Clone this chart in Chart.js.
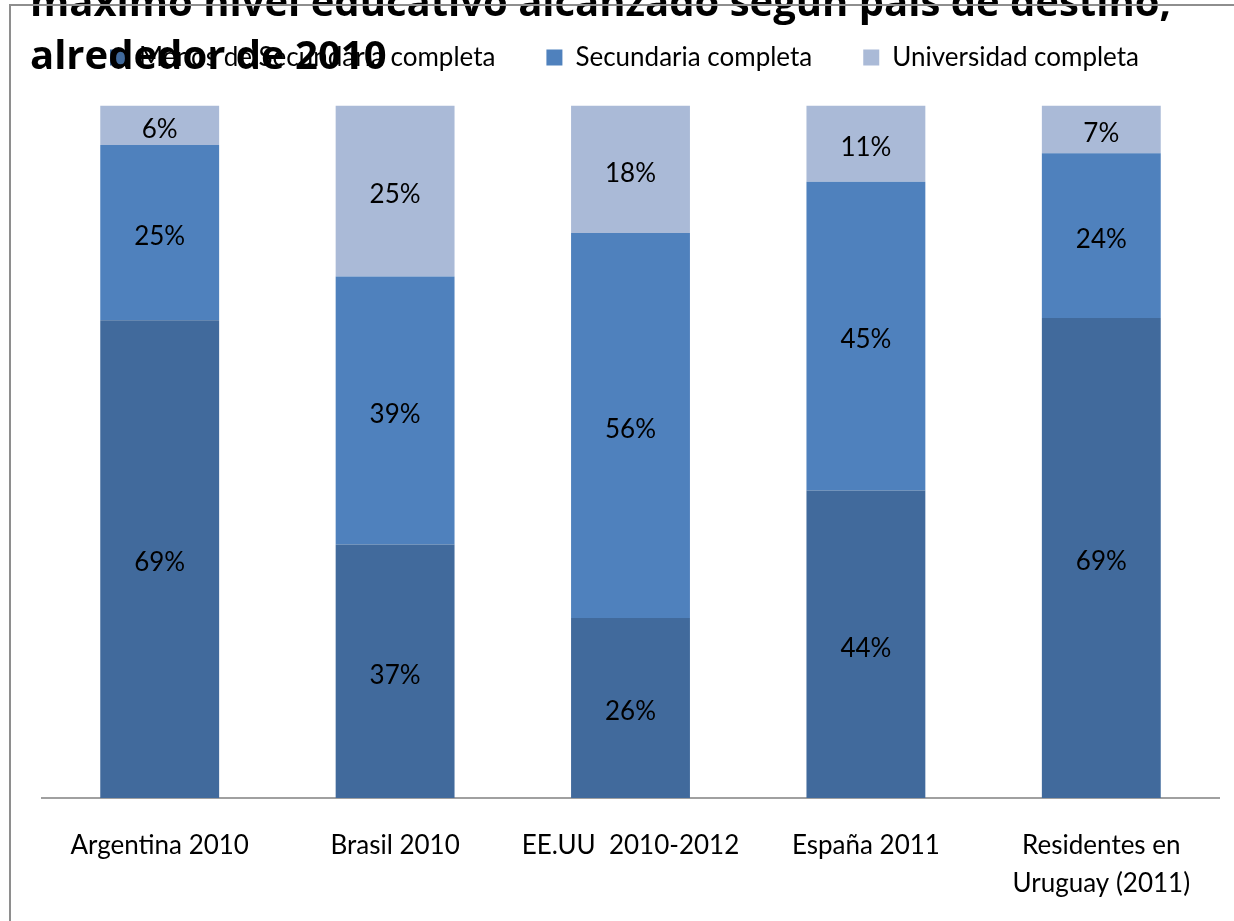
<!DOCTYPE html>
<html lang="es">
<head>
<meta charset="utf-8">
<title>Máximo nivel educativo alcanzado según país de destino</title>
<script src="https://cdn.jsdelivr.net/npm/chart.js@4.4.1/dist/chart.umd.min.js"></script>
<style>
  html, body { margin: 0; padding: 0; background: #fff; }
  #wrap { position: relative; width: 1234px; height: 921px; overflow: hidden; }
  /* el título original queda cortado arriba, por eso el lienzo sube un poco */
  #box { position: absolute; left: 0; top: -20px; width: 1234px; height: 952px; }
  #frame {
    position: absolute; left: 9px; top: 4px; width: 1400px; height: 1100px;
    border-left: 2px solid #8e8e8e; border-top: 2px solid #8e8e8e;
    pointer-events: none;
  }
</style>
</head>
<body>
<div id="wrap">
  <div id="box"><canvas id="chart"></canvas></div>
  <div id="frame"></div>
</div>
<script>
"use strict";

const categories = [
  "Argentina 2010",
  "Brasil 2010",
  "EE.UU  2010-2012",
  "España 2011",
  ["Residentes en", "Uruguay (2011)"],
];

const seriesNames = ["Menos de Secundaria completa", "Secundaria completa", "Universidad completa"];

// porcentajes
const menosSecundaria = [69.0, 36.6, 26.0, 44.4, 69.3];
const secundaria = [25.3, 38.7, 55.6, 44.6, 23.8];
const universidad = [5.7, 24.7, 18.4, 11.0, 6.9];

const colors = ["#416A9C", "#4F81BD", "#AABAD7"];

const titleLines = ["máximo nivel educativo alcanzado según país de destino,", "alrededor de 2010"];

// etiquetas de porcentaje dentro de cada tramo
const segmentLabels = {
  id: "segmentLabels",
  afterDatasetsDraw(chart) {
    const { ctx } = chart;
    ctx.save();
    ctx.font = "26px Lato";
    ctx.fillStyle = "#000";
    ctx.textAlign = "center";
    ctx.textBaseline = "middle";
    chart.data.datasets.forEach((ds, i) => {
      const meta = chart.getDatasetMeta(i);
      meta.data.forEach((bar, j) => {
        const v = ds.data[j];
        if (!v) return;
        // +4: el texto queda ópticamente centrado como en el original
        ctx.fillText(Math.round(v) + "%", bar.x, (bar.y + bar.base) / 2 + 4);
      });
    });
    ctx.restore();
  },
};

// más aire entre la leyenda y las barras
const legendGap = {
  id: "legendGap",
  beforeInit(chart) {
    const fit = chart.legend.fit;
    chart.legend.fit = function () {
      fit.call(this);
      this.height += 25;
    };
  },
};

const datasets = [menosSecundaria, secundaria, universidad].map((data, i) => ({
  label: seriesNames[i],
  data,
  backgroundColor: colors[i],
  borderWidth: 0,
  categoryPercentage: 1,
  barPercentage: 0.505,
}));

new Chart(document.getElementById("chart"), {
  type: "bar",
  data: { labels: categories, datasets },
  plugins: [segmentLabels, legendGap],
  options: {
    responsive: true,
    maintainAspectRatio: false,
    animation: false,
    layout: { padding: { left: 30, right: 15, top: 0, bottom: 0 } },
    scales: {
      x: {
        stacked: true,
        grid: { display: false, drawTicks: false },
        border: { display: true, color: "#a0a0a0", width: 2 },
        ticks: { color: "#000", padding: 29, font: { family: "Lato", size: 26, lineHeight: "38px" } },
      },
      y: {
        stacked: true,
        min: 0,
        max: 100,
        grid: { display: false, drawTicks: false },
        border: { display: false },
        ticks: { display: false },
        afterFit(scale) {
          scale.width = 12;
        },
      },
    },
    plugins: {
      title: {
        display: true,
        text: titleLines,
        align: "start",
        color: "#000",
        font: { family: "Open Sans", size: 40, weight: "bold", lineHeight: "53px" },
        padding: { top: -2, bottom: -90.5 },
      },
      legend: {
        position: "top",
        labels: {
          color: "#000",
          boxWidth: 16,
          boxHeight: 16,
          padding: 51,
          font: { family: "Lato", size: 26 },
        },
      },
      tooltip: { enabled: false },
    },
  },
});
</script>
</body>
</html>
